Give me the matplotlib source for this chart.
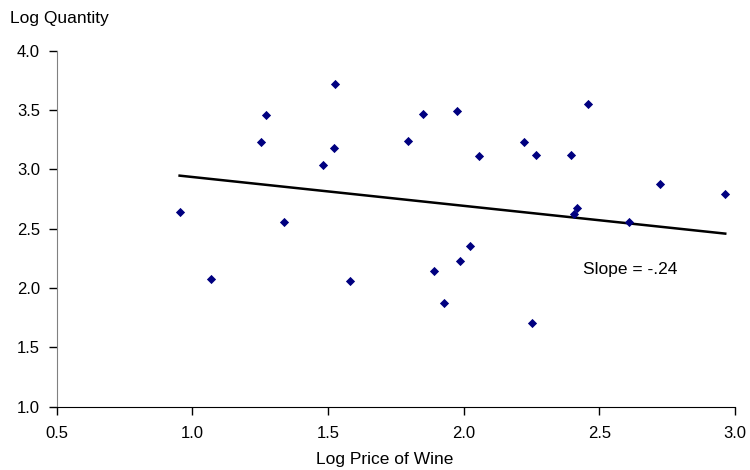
# Log quantity vs log price of wine, with fitted line
import numpy as np
import matplotlib.pyplot as plt

plt.rcParams["font.family"] = ["Liberation Sans", "DejaVu Sans"]

log_price = [0.953, 1.069, 1.253, 1.270, 1.338, 1.483, 1.522, 1.526, 1.581,
             1.796, 1.851, 1.891, 1.929, 1.975, 1.988, 2.023, 2.057, 2.224,
             2.253, 2.267, 2.395, 2.407, 2.417, 2.459, 2.609, 2.725, 2.964]
log_qty = [2.643, 2.076, 3.231, 3.456, 2.554, 3.034, 3.180, 3.719, 2.059,
           3.241, 3.464, 2.146, 1.874, 3.494, 2.225, 2.354, 3.113, 3.231,
           1.705, 3.124, 3.124, 2.626, 2.677, 3.555, 2.556, 2.879, 2.792]

# fitted line as shown on the chart
fit_slope = -0.243
fit_intercept = 3.179

x_ticks = [0.5, 1.0, 1.5, 2.0, 2.5, 3.0]
y_ticks = [1.0, 1.5, 2.0, 2.5, 3.0, 3.5, 4.0]

fig = plt.figure(figsize=(7.5, 4.7), dpi=100)
ax = fig.add_axes([0.0756, 0.1347, 0.9044, 0.7573])

ax.scatter(log_price, log_qty, marker="D", s=22, color="#000080",
           linewidths=0, zorder=3)

xs = np.array([min(log_price), max(log_price)])
ax.plot(xs, fit_intercept + fit_slope * xs, color="black", lw=1.8, zorder=2)

ax.set_xlim(0.5, 3.0)
ax.set_ylim(1.0, 4.0)
ax.set_xticks(x_ticks)
ax.set_yticks(y_ticks)
ax.set_xticklabels([f"{v:.1f}" for v in x_ticks])
ax.set_yticklabels([f"{v:.1f}" for v in y_ticks])
ax.tick_params(labelsize=12, length=6, width=1, color="black")
ax.tick_params(axis="x", pad=8)
ax.tick_params(axis="y", pad=6)

for side in ("top", "right"):
    ax.spines[side].set_visible(False)
ax.spines["left"].set_color("#808080")
ax.spines["bottom"].set_color("black")

ax.set_xlabel("Log Price of Wine", fontsize=12.5)
ax.xaxis.set_label_coords((385 - 56.7) / (735 - 56.7), -0.127)
fig.text(10 / 750, 1 - 19 / 470, "Log Quantity", fontsize=12.5, va="center",
         ha="left")
ax.text(2.613, 2.16, "Slope = -.24", fontsize=12.5, ha="center", va="center")

fig.savefig("out.png", dpi=100)
